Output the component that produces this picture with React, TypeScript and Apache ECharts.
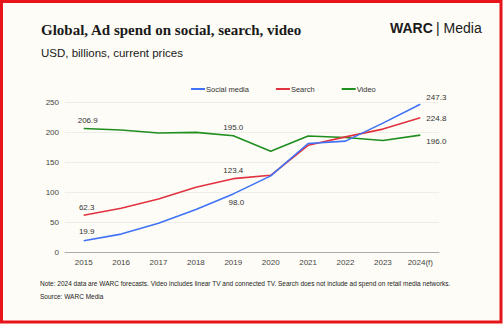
import React, { useEffect, useRef } from "react";
import * as echarts from "echarts";

const years = ["2015", "2016", "2017", "2018", "2019", "2020", "2021", "2022", "2023", "2024(f)"];
const socialMedia = [19.9, 31, 49, 72, 98.0, 128, 182, 186, 216, 247.3];
const search = [62.3, 74, 89.5, 109, 123.4, 129, 179, 193, 206, 224.8];
const video = [206.9, 204.5, 199.5, 200.6, 195.0, 169, 194.5, 192, 187, 196.0];
const yTicks = [0, 50, 100, 150, 200, 250];

const title = "Global, Ad spend on social, search, video";
const subtitle = "USD, billions, current prices";
const note = "Note: 2024 data are WARC forecasts. Video includes linear TV and connected TV. Search does not include ad spend on retail media networks.";
const source = "Source: WARC Media";

type LabelSpec = { [idx: number]: { position: string; offset: number[] } };

function build(values: number[], specs: LabelSpec) {
  return values.map((v, i) => {
    const s = specs[i];
    if (!s) return { value: v };
    return {
      value: v,
      label: {
        show: true,
        position: s.position,
        offset: s.offset,
        distance: 4,
        formatter: (p: any) => Number(p.value).toFixed(1),
        color: "#333",
        fontSize: 8,
        fontFamily: "Liberation Sans, Arial, sans-serif",
      },
    };
  });
}

export default function App() {
  const ref = useRef<HTMLDivElement>(null);
  useEffect(() => {
    if (!ref.current) return;
    const chart = echarts.init(ref.current, null, { renderer: "svg" });
    const lineStyleBase = { width: 1.6 };
    const common = {
      type: "line",
      symbol: "circle",
      symbolSize: 0.01,
      showSymbol: true,
      lineStyle: lineStyleBase,
    };
    chart.setOption({
      animation: false,
      backgroundColor: "#fdfcf6",
      textStyle: { fontFamily: "Liberation Sans, Arial, sans-serif" },
      grid: { left: 65, right: 64, top: 102.7, bottom: 73.3, containLabel: false },
      legend: {
        top: 80,
        left: 186,
        itemWidth: 14,
        itemHeight: 2,
        itemGap: 27,
        icon: "rect",
        textStyle: { fontSize: 7.5, color: "#333", padding: [0, 0, 0, -4] },
        data: ["Social media", "Search", "Video"],
      },
      xAxis: {
        type: "category",
        data: years,
        boundaryGap: true,
        axisLine: { lineStyle: { color: "#aaa", width: 1 } },
        axisTick: { show: false },
        axisLabel: { color: "#444", fontSize: 8, margin: 6 },
      },
      yAxis: {
        type: "value",
        min: yTicks[0],
        max: yTicks[yTicks.length - 1],
        interval: 50,
        axisLine: { show: false },
        axisTick: { show: false },
        axisLabel: { color: "#444", fontSize: 8, margin: 6 },
        splitLine: { lineStyle: { color: "#eeede8", width: 1 } },
      },
      graphic: [
        {
          type: "rect",
          shape: { x: 1.5, y: 1.5, width: 499.5, height: 320.5 },
          style: { fill: "none", stroke: "#e8141c", lineWidth: 3 },
          z: 100,
        },
        {
          type: "text",
          left: 41,
          top: 22,
          style: { text: title, font: "bold 15px 'Liberation Serif', 'DejaVu Serif', serif", fill: "#1a1a1a" },
        },
        {
          type: "text",
          left: 41,
          top: 47,
          style: { text: subtitle, font: "11.5px 'Liberation Sans', Arial, sans-serif", fill: "#1a1a1a" },
        },
        {
          type: "text",
          left: 390,
          top: 21,
          style: {
            rich: {
              b: { font: "bold 14px 'Liberation Sans', Arial, sans-serif", fill: "#1a1a1a" },
              n: { font: "14px 'Liberation Sans', Arial, sans-serif", fill: "#1a1a1a" },
            },
            text: "{b|WARC} {n|| Media}",
          },
        },
        {
          type: "text",
          left: 40,
          top: 280,
          style: { text: note, font: "6.5px 'Liberation Sans', Arial, sans-serif", fill: "#222" },
        },
        {
          type: "text",
          left: 40,
          top: 293,
          style: { text: source, font: "6.5px 'Liberation Sans', Arial, sans-serif", fill: "#222" },
        },
      ],
      series: [
        {
          ...common,
          name: "Social media",
          data: build(socialMedia, {
            0: { position: "top", offset: [3, -1] },
            4: { position: "bottom", offset: [3, 1] },
            9: { position: "right", offset: [2, -7] },
          }),
          color: "#3f72f6",
          z: 3,
        },
        {
          ...common,
          name: "Search",
          data: build(search, {
            0: { position: "top", offset: [3, 0] },
            4: { position: "top", offset: [0, 0] },
            9: { position: "right", offset: [2, 1] },
          }),
          color: "#e0333f",
          z: 2,
        },
        {
          ...common,
          name: "Video",
          data: build(video, {
            0: { position: "top", offset: [4, 0] },
            4: { position: "top", offset: [0, 0] },
            9: { position: "right", offset: [2, 6] },
          }),
          color: "#1f8f1f",
          z: 1,
        },
      ],
    });
    return () => chart.dispose();
  }, []);
  return (
    <div
      ref={ref}
      style={{ position: "fixed", left: 0, top: 0, width: 503, height: 326 }}
    />
  );
}
